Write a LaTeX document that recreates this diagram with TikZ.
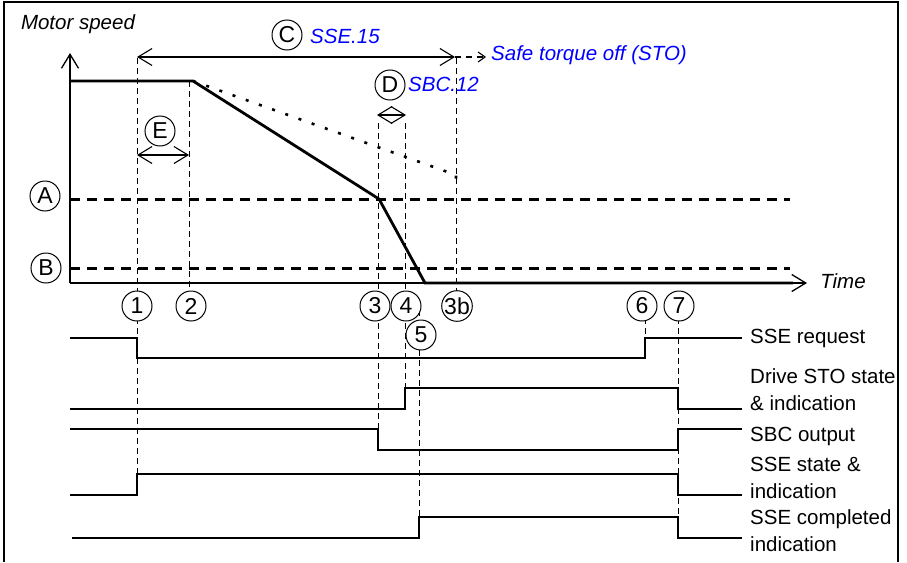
\documentclass[tikz,border=0pt]{standalone}
\usepackage{fontspec}
\setmainfont{Liberation Sans}
\usetikzlibrary{arrows.meta}
\definecolor{parblue}{RGB}{0,0,255}
\tikzset{
  tag/.style={circle, draw, fill=white, line width=1pt, minimum size=30pt, inner sep=0pt, font=\fontsize{23}{23}\selectfont},
  sigtext/.style={anchor=west, align=left, inner sep=0pt, font=\fontsize{20.5}{27}\selectfont},
  partext/.style={anchor=west, inner sep=0pt, text=parblue, font=\fontsize{20.5}{24}\selectfont\itshape},
  guide/.style={line width=1pt, dash pattern=on 6pt off 4pt},
  level/.style={line width=3pt, dash pattern=on 10pt off 7pt},
  sig/.style={line width=1.4pt},
  span/.style={line width=1.1pt, {Straight Barb[length=14pt,width=17pt]}-{Straight Barb[length=14pt,width=17pt]}}
}
\begin{document}
\begin{tikzpicture}[x=1pt, y=-1pt, line join=miter]
  \useasboundingbox (0,0) rectangle (907,562);
  % Frame
  \draw[line width=1.3pt] (4,562) -- (4,2) -- (898,2) -- (898,562);
  % Axes
  \coordinate (o) at (70,283);
  \coordinate (ytop) at (70,53);
  \coordinate (xend) at (807,283);
  \draw[line width=1.3pt, -{Straight Barb[length=14pt,width=17pt]}] (o) -- (ytop);
  \draw[line width=1.3pt, -{Straight Barb[length=14pt,width=17pt]}] (o) -- (xend);
  \node (speed) at (78,24) {\fontsize{20.5}{24}\selectfont\itshape Motor speed};
  \node (time) at (843,281) {\fontsize{20.5}{24}\selectfont\itshape Time};
  % Speed limits
  \draw[level] (70,199) -- (790,199);
  \draw[level] (70,268) -- (790,268);
  % Guide lines
  \draw[guide] (137,58) -- (137,475);
  \draw[guide] (189,81) -- (189,292);
  \draw[guide] (378,123) -- (378,450);
  \draw[guide] (405,123) -- (405,408);
  \draw[guide] (419,300) -- (419,538);
  \draw[guide] (456,58) -- (456,292);
  \draw[guide] (645,318) -- (645,338);
  \draw[guide] (678,318) -- (678,538);
  % Speed curves
  \draw[line width=2.6pt, dash pattern=on 3pt off 11pt] (193,81) -- (456,175) -- (456,181);
  \draw[line width=2.8pt] (70,81) -- (193,81) -- (379,199) -- (425,283) -- (793,283);
  % Time tags
  \node[tag] (A) at (45,196) {A};
  \node[tag] (B) at (46,268) {B};
  \node[tag] (n1) at (137,306) {1};
  \node[tag] (n2) at (191,306) {2};
  \node[tag] (n3) at (375,306) {3};
  \node[tag] (n4) at (406,306) {4};
  \node[tag] (n3b) at (457,306) {3b};
  \node[tag] (n5) at (421,335) {5};
  \node[tag] (n6) at (642,306) {6};
  \node[tag] (n7) at (679,306) {7};
  % Parameter spans
  \coordinate (c0) at (137,57);
  \coordinate (c1) at (455,57);
  \coordinate (c2) at (486,57);
  \draw[span] (c0) -- (c1);
  \draw[line width=1.1pt, dash pattern=on 6pt off 5pt, -{Straight Barb[length=7pt,width=10pt]}] (c1) -- (c2);
  \node[tag] (C) at (287,35) {C};
  \node[partext] (sse15) at (310,36) {SSE.15};
  \node[partext] (sto) at (491,55) {Safe torque off (STO)};
  \coordinate (d0) at (377,115);
  \coordinate (d1) at (406,115);
  \draw[span] (d0) -- (d1);
  \node[tag] (D) at (390,85) {D};
  \node[partext] (sbc12) at (408,84) {SBC.12};
  \coordinate (e0) at (137,155);
  \coordinate (e1) at (189,155);
  \draw[span] (e0) -- (e1);
  \node[tag] (E) at (160,131) {E};
  % Signals
  \draw[sig] (70,338) -- (137,338) -- (137,358) -- (645,358) -- (645,338) -- (742,338);
  \draw[sig] (70,409) -- (405,409) -- (405,388) -- (678,388) -- (678,409) -- (742,409);
  \draw[sig] (70,429) -- (378,429) -- (378,450) -- (678,450) -- (678,429) -- (742,429);
  \draw[sig] (70,495) -- (137,495) -- (137,474) -- (678,474) -- (678,495) -- (742,495);
  \draw[sig] (72,538) -- (419,538) -- (419,517) -- (678,517) -- (678,538) -- (742,538);
  \node[sigtext] (req) at (750,338) {SSE request};
  \node[sigtext] (drv) at (750,389.5) {Drive STO state\\\& indication};
  \node[sigtext] (sbc) at (750,436) {SBC output};
  \node[sigtext] (sst) at (750,477.5) {SSE state \&\\indication};
  \node[sigtext] (cmp) at (750,531) {SSE completed\\indication};
\end{tikzpicture}
\end{document}
